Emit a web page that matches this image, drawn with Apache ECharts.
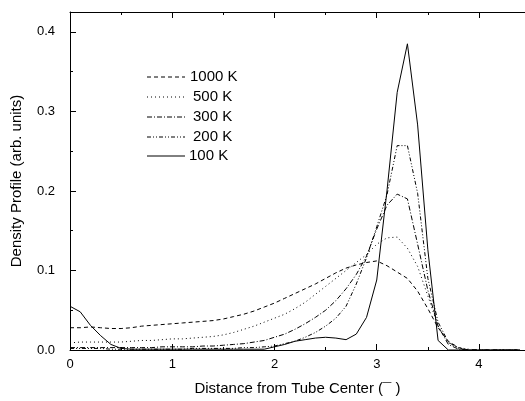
<!DOCTYPE html>
<html>
<head>
<meta charset="utf-8">
<script src="https://cdn.jsdelivr.net/npm/echarts@6/dist/echarts.min.js"></script>
<style>
html,body{margin:0;padding:0;background:#fff;}
#chart{width:525px;height:401px;}
</style>
</head>
<body>
<div id="chart"></div>
<script>
var xs = [0,0.1,0.2,0.3,0.4,0.5,0.6,0.7,0.8,0.9,1.0,1.1,1.2,1.3,1.4,1.5,1.6,1.7,1.8,1.9,2.0,2.1,2.2,2.3,2.4,2.5,2.6,2.7,2.8,2.9,3.0,3.1,3.2,3.3,3.4,3.5,3.6,3.7,3.8,3.9,4.0,4.1,4.2,4.3,4.4];
var seriesNames = ['1000 K','500 K','300 K','200 K','100 K'];
var k1000 = [0.028,0.028,0.029,0.028,0.027,0.027,0.028,0.030,0.031,0.032,0.033,0.034,0.035,0.036,0.037,0.039,0.042,0.045,0.049,0.054,0.059,0.065,0.071,0.077,0.083,0.090,0.097,0.103,0.107,0.110,0.112,0.106,0.098,0.090,0.074,0.052,0.028,0.011,0.003,0.000,0,0,0,0,0];
var k500 = [0.009,0.010,0.010,0.010,0.010,0.010,0.011,0.012,0.012,0.013,0.014,0.014,0.015,0.016,0.017,0.019,0.022,0.026,0.030,0.035,0.040,0.045,0.052,0.060,0.070,0.080,0.090,0.100,0.110,0.120,0.133,0.141,0.142,0.128,0.105,0.068,0.030,0.009,0.003,0.001,0,0,0,0,0];
var k300 = [0.003,0.003,0.003,0.003,0.003,0.003,0.003,0.003,0.003,0.004,0.004,0.004,0.004,0.005,0.005,0.006,0.007,0.008,0.010,0.012,0.016,0.020,0.026,0.033,0.041,0.050,0.062,0.077,0.095,0.118,0.152,0.182,0.196,0.190,0.133,0.075,0.030,0.007,0.001,0,0,0,0,0,0];
var k200 = [0.002,0.002,0.002,0.002,0.001,0.001,0.001,0.001,0.001,0.001,0.001,0.001,0.002,0.002,0.002,0.002,0.002,0.003,0.003,0.004,0.005,0.008,0.011,0.016,0.022,0.030,0.040,0.055,0.083,0.116,0.155,0.195,0.257,0.257,0.197,0.090,0.035,0.010,0.002,0,0,0,0,0,0];
var k100 = [0.055,0.048,0.031,0.018,0.007,0.002,0.001,0.001,0.001,0.001,0.001,0.001,0.001,0.001,0.001,0.001,0.001,0.001,0.001,0.001,0.004,0.007,0.011,0.013,0.015,0.016,0.015,0.013,0.020,0.041,0.088,0.200,0.324,0.385,0.283,0.126,0.012,0.000,0,0,0,0,0,0,0];
var xTicks = [0,1,2,3,4];
var yTicks = [0.0,0.1,0.2,0.3,0.4];

var allValues = [k1000,k500,k300,k200,k100];
var dashes = [[4,3],[1,3],[5,2,1,2],[4,2,1,2,1,2],'solid'];

function pairs(vals){ return xs.map(function(x,i){return [x, vals[i]];}); }

var FONT = 'Liberation Sans, Arial, sans-serif';
var chart = echarts.init(document.getElementById('chart'), null, {renderer:'canvas'});

var series = allValues.map(function(v,i){
  return {
    name: seriesNames[i], type:'line', data: pairs(v), symbol:'none', smooth:false,
    lineStyle:{color:'#000', width:1, type: dashes[i]}, animation:false, z: 3
  };
});

// legend drawn as graphic
var legendGraphics = [];
var rowY = [77,97,117,137,156];
var textX = [190,193,193,193,189];
seriesNames.forEach(function(n,i){
  legendGraphics.push({type:'line', shape:{x1:147,y1:rowY[i],x2:185,y2:rowY[i]},
    style:{stroke:'#000', lineWidth:1, lineDash: dashes[i]==='solid'?null:dashes[i]}});
  legendGraphics.push({type:'text', x:textX[i], y:rowY[i], style:{text:n, font:'15px '+FONT, fill:'#000', verticalAlign:'middle', textAlign:'left'}});
});

var axisCommon = {
  type:'value', min:0, max:4.45, interval:1,
  axisLine:{show:true, onZero:false, lineStyle:{color:'#000', width:1}},
  axisTick:{show:true, inside:true, length:6, lineStyle:{color:'#000'}},
  minorTick:{show:true, splitNumber:2, length:3, lineStyle:{color:'#000'}},
  splitLine:{show:false}
};

chart.setOption({
  animation:false,
  backgroundColor:'#fff',
  grid:{left:70, top:12, right:0, bottom:48, containLabel:false},
  xAxis:[
    Object.assign({}, axisCommon, {
      position:'bottom',
      name:'Distance from Tube Center (¯ )', nameLocation:'middle', nameGap:31,
      nameTextStyle:{fontFamily:FONT, fontSize:15, color:'#000'},
      axisLabel:{show:true, margin:8, fontFamily:FONT, fontSize:13, color:'#000', showMaxLabel:false,
        formatter:function(v){ return xTicks.indexOf(v)>=0 ? String(v) : ''; }}
    }),
    Object.assign({}, axisCommon, {position:'top', axisLabel:{show:false}})
  ],
  yAxis:[{
    type:'value', min:0, max:0.425, interval:0.1,
    axisLine:{show:true, lineStyle:{color:'#000', width:1}},
    axisTick:{show:true, inside:true, length:6, lineStyle:{color:'#000'}},
    minorTick:{show:true, splitNumber:2, length:3, lineStyle:{color:'#000'}},
    splitLine:{show:false},
    name:'Density Profile (arb. units)', nameLocation:'middle', nameGap:46, nameRotate:90,
    nameTextStyle:{fontFamily:FONT, fontSize:15, color:'#000'},
    axisLabel:{show:true, margin:15, fontFamily:FONT, fontSize:13, color:'#000', showMaxLabel:false,
      formatter:function(v){
        for (var i=0;i<yTicks.length;i++){ if (Math.abs(yTicks[i]-v)<1e-9) return yTicks[i].toFixed(1); }
        return '';
      }}
  }],
  series: series,
  graphic: legendGraphics
});
</script>
</body>
</html>
